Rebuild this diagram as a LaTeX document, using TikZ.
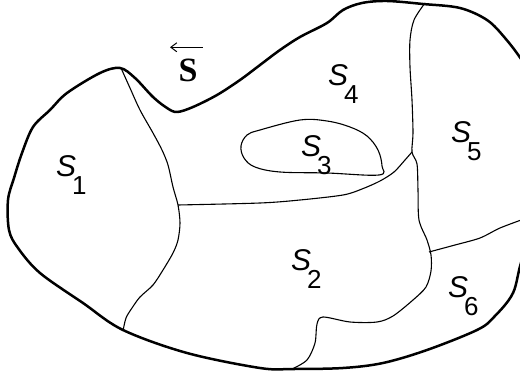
\documentclass[tikz,border=0pt]{standalone}
\usepackage{fontspec}
\setmainfont{Liberation Serif}
\newfontfamily\lblfont{Liberation Sans}
\usetikzlibrary{arrows.meta,calc,positioning}

\tikzset{
  rim/.style={line width=2.5pt,line join=round,line cap=round},
  seam/.style={line width=1.1pt,line join=round},
  region/.style={font=\lblfont\fontsize{26}{26}\selectfont,inner sep=0pt,anchor=base west},
}
\newcommand{\regname}[1]{\rlap{\fontsize{30}{30}\selectfont\itshape S}\hspace{16pt}\raisebox{-18pt}{#1}}

\begin{document}
\begin{tikzpicture}[x=1pt,y=-1pt,>=Stealth]
  \useasboundingbox (0,0) rectangle (520,377);
  \clip (0,0) rectangle (520,377);

  % outer boundary
  \draw[rim] plot[smooth cycle,tension=0.55] coordinates {
    (120,68) (135,78) (153,97) (167,108) (177,112) (193,107) (217,95)
    (240,80) (260,65) (280,50) (300,37) (327,23) (343,10) (362,3)
    (387,1) (423,4) (460,8) (487,20) (505,38) (523,62) (545,100)
    (552,150) (548,205) (523,257) (513,293) (494,317) (477,330)
    (427,350) (383,363) (343,368) (293,369) (260,368) (187,353)
    (123,330) (83,303) (40,273) (18,248) (9,230) (8,200) (14,178)
    (22,153) (33,127) (50,110) (67,93) (100,73)};

  % internal seams
  \draw[seam] plot[smooth,tension=0.5] coordinates {
    (121,68) (130,88) (140,110) (153,133) (162,150) (168,165) (173,187)
    (178,205) (180,223) (178,240) (173,253) (163,270) (153,285)
    (140,297) (132,308) (126,318) (123,331)};
  \draw[seam] plot[smooth,tension=0.5] coordinates {
    (178,205) (260,203) (300,200) (343,195) (362,189) (380,181)
    (394,172) (405,160) (412,152)};
  \draw[seam] plot[smooth,tension=0.5] coordinates {
    (425,3) (414,20) (410,40) (410,67) (412,100) (413,133) (412,152)
    (417,164) (418,190) (419,220) (427,240) (431,255) (431,271)
    (426,287) (413,300) (393,316) (377,322) (350,322) (323,317)
    (317,324) (315,343) (307,360) (292,369)};
  \draw[seam] plot[smooth,tension=0.5] coordinates {
    (429,252) (455,245) (480,238) (500,228) (524,219)};
  \draw[seam] plot[smooth cycle,tension=0.6] coordinates {
    (260,130) (300,120) (327,121) (350,127) (367,136) (378,150)
    (382,166) (379,175) (327,173) (280,172) (255,167) (244,158)
    (241,146) (247,135)};

  % region labels
  \node[region] (s1) at (56,177) {\regname{1}};
  \node[region] (s2) at (291,270) {\regname{2}};
  \node[region] (s3) at (301,157) {\regname{3}};
  \node[region] (s4) at (328,86) {\regname{4}};
  \node[region] (s5) at (451,143) {\regname{5}};
  \node[region] (s6) at (448,297) {\regname{6}};

  % direction marker
  \node[font=\fontsize{34}{34}\selectfont\bfseries,inner sep=0pt,anchor=base] (vecS) at (188,82) {S};
  \coordinate (arrR) at ($(vecS.north)+(15,-12)$);
  \coordinate (arrL) at ($(vecS.north)+(-18,-12)$);
  \draw[line width=1pt,{Straight Barb[length=6pt,width=9pt]}-] (arrL) -- (arrR);
\end{tikzpicture}
\end{document}
